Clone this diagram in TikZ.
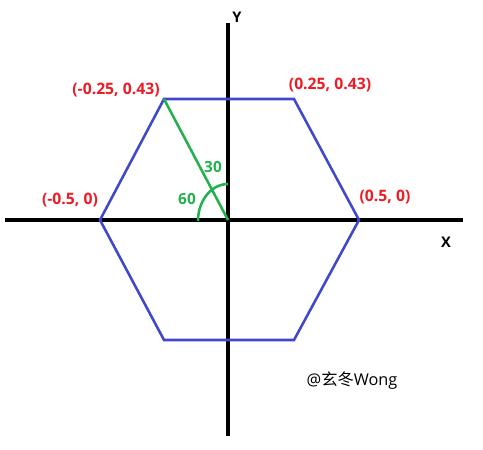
\documentclass[tikz,border=0pt]{standalone}
\usepackage{fontspec}
\setmainfont{Open Sans}
\newfontfamily\cjk{Noto Sans CJK SC}
\definecolor{hexblue}{RGB}{63,72,204}
\definecolor{angreen}{RGB}{34,177,76}
\definecolor{labred}{RGB}{237,28,36}
\begin{document}
\begin{tikzpicture}[x=0.75pt,y=-0.75pt,
  axis/.style={line width=2.3pt,black},
  hexline/.style={line width=1.9pt,hexblue,line join=miter},
  greenline/.style={line width=1.9pt,angreen},
  ptlabel/.style={text=labred,font=\fontsize{11.8}{14}\selectfont\bfseries,inner sep=0pt},
  anglabel/.style={text=angreen,font=\fontsize{11.5}{14}\selectfont\bfseries,inner sep=0pt},
  axlabel/.style={text=black,font=\fontsize{11}{13}\selectfont\bfseries,inner sep=0pt}]
\useasboundingbox (0,0) rectangle (483,450);
\fill[white] (0,0) rectangle (483,450);
% coordinates
\coordinate (xl) at (5,220);
\coordinate (xr) at (463,220);
\coordinate (yt) at (228,23);
\coordinate (yb) at (228,436);
\coordinate (o) at (228,220);
\coordinate (p1) at (100,220);
\coordinate (p2) at (164,99);
\coordinate (p3) at (294,99);
\coordinate (p4) at (359,220);
\coordinate (p5) at (294,340);
\coordinate (p6) at (164,340);
% axes
\draw[axis] (xl) -- (xr);
\draw[axis] (yt) -- (yb);
% hexagon
\draw[hexline] (p1) -- (p2) -- (p3) -- (p4) -- (p5) -- (p6) -- cycle;
% green line and arc
\draw[greenline] (p2) -- (o);
\coordinate (arcstart) at (228,184);
\draw[greenline] (arcstart) arc[start angle=90,end angle=180,x radius=30,y radius=-37];
% labels
\node[ptlabel] (l2) at (116,90) {(-0.25, 0.43)};
\node[ptlabel] (l3) at (330,85) {(0.25, 0.43)};
\node[ptlabel] (l1) at (70,200) {(-0.5, 0)};
\node[ptlabel] (l4) at (385,197) {(0.5, 0)};
\node[anglabel] (a30) at (213,167) {30};
\node[anglabel] (a60) at (187,199) {60};
\node[axlabel] (ylab) at (237,17) {Y};
\node[axlabel] (xlab) at (446,242) {X};
\node[inner sep=0pt,font=\fontsize{12.2}{14}\selectfont] (wm) at (352,381) {@{\cjk 玄冬}Wong};
\end{tikzpicture}
\end{document}
